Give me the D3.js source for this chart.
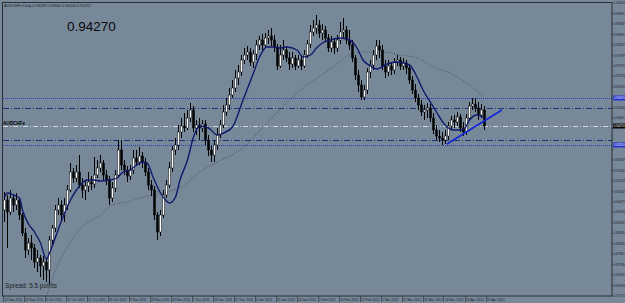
<!DOCTYPE html>
<html>
<head>
<meta charset="utf-8">
<script src="https://cdn.jsdelivr.net/npm/d3@7"></script>
<style>
body { margin: 0; background: #778899; }
svg { display: block; font-family: "Liberation Sans", Arial, sans-serif; }
</style>
</head>
<body>
<div id="chart"></div>
<script>
// AUDCHFe, Daily - bars
var opens = [0.9007,0.9057,0.8997,0.9067,0.9032,0.9057,0.8982,0.8892,0.8807,0.8842,
  0.8817,0.8747,0.8767,0.8727,0.8747,0.8707,0.8857,0.8917,0.9007,0.9032,
  0.8982,0.9032,0.9107,0.9197,0.9167,0.9197,0.9132,0.9107,0.9127,0.9147,
  0.9137,0.9182,0.9217,0.9242,0.9182,0.9157,0.9067,0.9117,0.9182,0.9307,
  0.9232,0.9207,0.9177,0.9207,0.9267,0.9247,0.9277,0.9247,0.9197,0.9132,
  0.9107,0.8982,0.8897,0.8982,0.9082,0.9132,0.9217,0.9307,0.9332,0.9397,
  0.9427,0.9417,0.9467,0.9507,0.9417,0.9432,0.9417,0.9437,0.9357,0.9307,
  0.9282,0.9332,0.9382,0.9432,0.9497,0.9532,0.9582,0.9617,0.9667,0.9697,
  0.9757,0.9782,0.9797,0.9747,0.9787,0.9832,0.9857,0.9832,0.9867,0.9877,
  0.9857,0.9822,0.9727,0.9782,0.9807,0.9767,0.9737,0.9767,0.9727,0.9757,
  0.9727,0.9782,0.9837,0.9897,0.9917,0.9932,0.9892,0.9907,0.9867,0.9817,
  0.9847,0.9817,0.9857,0.9897,0.9907,0.9857,0.9832,0.9767,0.9682,0.9632,
  0.9572,0.9607,0.9697,0.9732,0.9782,0.9827,0.9807,0.9727,0.9697,0.9727,
  0.9707,0.9747,0.9757,0.9727,0.9742,0.9717,0.9657,0.9607,0.9567,0.9532,
  0.9497,0.9507,0.9517,0.9467,0.9407,0.9377,0.9367,0.9357,0.9377,0.9427,
  0.9457,0.9447,0.9472,0.9417,0.9397,0.9467,0.9527,0.9537,0.9517,0.9482,
  0.9507];
var highs = [0.9097,0.9082,0.9107,0.9082,0.9092,0.9067,0.8992,0.8917,0.8867,0.8882,
  0.8837,0.8807,0.8782,0.8777,0.8767,0.8877,0.8932,0.9032,0.9067,0.9057,
  0.9067,0.9132,0.9242,0.9217,0.9232,0.9282,0.9167,0.9157,0.9197,0.9177,
  0.9272,0.9257,0.9282,0.9257,0.9207,0.9177,0.9147,0.9207,0.9357,0.9357,
  0.9257,0.9227,0.9232,0.9307,0.9307,0.9322,0.9297,0.9267,0.9217,0.9157,
  0.9127,0.8997,0.9007,0.9107,0.9157,0.9247,0.9327,0.9367,0.9432,0.9467,
  0.9492,0.9507,0.9542,0.9527,0.9457,0.9467,0.9457,0.9457,0.9382,0.9327,
  0.9357,0.9417,0.9457,0.9532,0.9567,0.9617,0.9657,0.9707,0.9732,0.9782,
  0.9817,0.9827,0.9817,0.9807,0.9857,0.9877,0.9887,0.9892,0.9907,0.9917,
  0.9882,0.9837,0.9832,0.9857,0.9827,0.9797,0.9797,0.9782,0.9782,0.9777,
  0.9807,0.9857,0.9932,0.9957,0.9982,0.9957,0.9937,0.9927,0.9887,0.9877,
  0.9867,0.9882,0.9947,0.9967,0.9927,0.9907,0.9857,0.9782,0.9707,0.9657,
  0.9632,0.9717,0.9757,0.9807,0.9857,0.9857,0.9832,0.9757,0.9757,0.9747,
  0.9767,0.9782,0.9772,0.9767,0.9757,0.9737,0.9677,0.9637,0.9587,0.9557,
  0.9532,0.9542,0.9537,0.9492,0.9432,0.9407,0.9397,0.9407,0.9447,0.9477,
  0.9482,0.9497,0.9487,0.9447,0.9487,0.9547,0.9567,0.9567,0.9547,0.9537,
  0.9527];
var lows = [0.8947,0.8817,0.8982,0.8997,0.9007,0.8957,0.8877,0.8767,0.8782,0.8757,
  0.8717,0.8697,0.8672,0.8657,0.8647,0.8637,0.8827,0.8897,0.8982,0.8957,
  0.8947,0.9007,0.9097,0.9142,0.9147,0.9117,0.9067,0.9057,0.9097,0.9107,
  0.9117,0.9167,0.9197,0.9157,0.9132,0.9032,0.9047,0.9097,0.9167,0.9207,
  0.9182,0.9147,0.9157,0.9187,0.9227,0.9232,0.9217,0.9177,0.9107,0.9077,
  0.8957,0.8857,0.8877,0.8967,0.9067,0.9117,0.9197,0.9282,0.9307,0.9367,
  0.9397,0.9407,0.9447,0.9397,0.9382,0.9357,0.9397,0.9332,0.9277,0.9247,
  0.9247,0.9307,0.9367,0.9417,0.9477,0.9507,0.9567,0.9597,0.9632,0.9677,
  0.9737,0.9757,0.9727,0.9717,0.9757,0.9807,0.9807,0.9817,0.9837,0.9827,
  0.9797,0.9707,0.9717,0.9757,0.9747,0.9707,0.9717,0.9707,0.9717,0.9707,
  0.9717,0.9767,0.9817,0.9877,0.9887,0.9867,0.9857,0.9847,0.9797,0.9797,
  0.9787,0.9797,0.9837,0.9867,0.9837,0.9807,0.9747,0.9657,0.9597,0.9557,
  0.9557,0.9587,0.9667,0.9707,0.9757,0.9767,0.9707,0.9667,0.9677,0.9682,
  0.9687,0.9727,0.9707,0.9707,0.9687,0.9637,0.9587,0.9547,0.9507,0.9477,
  0.9457,0.9467,0.9447,0.9387,0.9357,0.9347,0.9332,0.9337,0.9357,0.9407,
  0.9417,0.9427,0.9397,0.9377,0.9382,0.9457,0.9507,0.9497,0.9457,0.9467,
  0.9407];
var closes = [0.9057,0.8997,0.9067,0.9032,0.9057,0.8982,0.8892,0.8807,0.8842,0.8817,
  0.8747,0.8767,0.8727,0.8747,0.8707,0.8857,0.8917,0.9007,0.9032,0.8982,
  0.9032,0.9107,0.9197,0.9167,0.9197,0.9132,0.9107,0.9127,0.9147,0.9137,
  0.9182,0.9217,0.9242,0.9182,0.9157,0.9067,0.9117,0.9182,0.9307,0.9232,
  0.9207,0.9177,0.9207,0.9267,0.9247,0.9277,0.9247,0.9197,0.9132,0.9107,
  0.8982,0.8897,0.8982,0.9082,0.9132,0.9217,0.9307,0.9332,0.9397,0.9427,
  0.9417,0.9467,0.9507,0.9417,0.9432,0.9417,0.9437,0.9357,0.9307,0.9282,
  0.9332,0.9382,0.9432,0.9497,0.9532,0.9582,0.9617,0.9667,0.9697,0.9757,
  0.9782,0.9797,0.9747,0.9787,0.9832,0.9857,0.9832,0.9867,0.9877,0.9857,
  0.9822,0.9727,0.9782,0.9807,0.9767,0.9737,0.9767,0.9727,0.9757,0.9727,
  0.9782,0.9837,0.9897,0.9917,0.9932,0.9892,0.9907,0.9867,0.9817,0.9847,
  0.9817,0.9857,0.9897,0.9907,0.9857,0.9832,0.9767,0.9682,0.9632,0.9572,
  0.9607,0.9697,0.9732,0.9782,0.9827,0.9807,0.9727,0.9697,0.9727,0.9707,
  0.9747,0.9757,0.9727,0.9742,0.9717,0.9657,0.9607,0.9567,0.9532,0.9497,
  0.9507,0.9517,0.9467,0.9407,0.9377,0.9367,0.9357,0.9377,0.9427,0.9457,
  0.9447,0.9472,0.9417,0.9397,0.9467,0.9527,0.9537,0.9517,0.9482,0.9507,
  0.9427];

// moving averages, sampled at bar positions
var fastBars = [0,1,3,5,6,8,10,12,14,15,17.5,19.5,22,24,27.5,29.5,32,35,37.5,39.5,
  42,44,46,47.5,49.5,52,54,55,57,58.5,61,63,65,68,71,73,76,79.5,83,85,
  87.5,89.5,92,94,97.5,99.5,102,104,106,108.5,112,115,117.5,119.5,122,124,127.5,131,135,137.5,
  139.5,143,145,147.5,149.5,152,153.5,155,157.5,159.5,160];
var fastValues = [0.9072,0.9092,0.9082,0.9067,0.9007,0.8937,0.8897,0.8842,0.8762,0.8792,
  0.8892,0.8972,0.9057,0.9107,0.9157,0.9157,0.9152,0.9157,0.9167,0.9197,
  0.9207,0.9232,0.9247,0.9242,0.9172,0.9092,0.9052,0.9042,0.9072,0.9157,
  0.9257,0.9372,0.9427,0.9417,0.9382,0.9392,0.9422,0.9557,0.9692,0.9772,
  0.9822,0.9822,0.9817,0.9822,0.9807,0.9772,0.9782,0.9817,0.9842,0.9857,
  0.9867,0.9857,0.9817,0.9757,0.9727,0.9712,0.9737,0.9747,0.9732,0.9672,
  0.9607,0.9522,0.9472,0.9422,0.9407,0.9407,0.9417,0.9457,0.9482,0.9472,0.9467];
var slowBars = [14,17.5,21,24,27.5,32,36,41,45,49.5,54,59.5,65,71,78.5,88.5,97.5,109.5,115,120,126,132,137.5,143,148.5,154,160];
var slowValues = [0.8577,0.8722,0.8822,0.8892,0.8942,0.8982,0.9032,0.9047,0.9067,0.9082,
  0.9097,0.9127,0.9197,0.9247,0.9307,0.9457,0.9592,0.9722,0.9782,0.9797,
  0.9797,0.9782,0.9767,0.9722,0.9692,0.9642,0.9572];

// horizontal lines and trend line
var dottedLevels = [0.9567, 0.9332];
var dashDotLevels = [0.9517, 0.9357];
var bidPrice = 0.9427;
var trendBars = [147.5, 165.8];
var trendValues = [0.9337, 0.9507];

var dateBars = [0,7,14,21,28,35,42,49,56,63,70,77,84,91,98,105,112,119,126,133,140,147,154,161];
var dateLabels = ['14 Sep 2011','23 Sep 2011','3 Oct 2011','12 Oct 2011','21 Oct 2011','31 Oct 2011',
  '9 Nov 2011','18 Nov 2011','28 Nov 2011','7 Dec 2011','16 Dec 2011','27 Dec 2011',
  '4 Jan 2012','13 Jan 2012','24 Jan 2012','1 Feb 2012','10 Feb 2012','21 Feb 2012',
  '1 Mar 2012','12 Mar 2012','21 Mar 2012','30 Mar 2012','10 Apr 2012','19 Apr 2012'];
var priceTicks = [0.85770,0.86293,0.86816,0.87339,0.87862,0.88385,0.88908,0.89431,0.89954,0.90477,
  0.91000,0.91523,0.92046,0.92569,0.93092,0.93615,0.94138,0.94661,0.95184,0.95707,
  0.96230,0.96753,0.97276,0.97799,0.98322,0.98845,0.99368,0.99891,1.00414];

var w = 625, h = 303;

var x = d3.scaleLinear().domain([-0.5, 202.5]).range([3, 612]);
var y = d3.scaleLinear().domain([0.8577, 1.0042]).range([296, 3]);

var svg = d3.select('#chart').append('svg')
    .attr('width', w)
    .attr('height', h);

svg.append('rect').attr('width', w).attr('height', h).attr('fill', '#778899');

svg.append('clipPath').attr('id', 'plot')
  .append('rect').attr('x', 3).attr('y', 3).attr('width', 609).attr('height', 293);

var plot = svg.append('g').attr('clip-path', 'url(#plot)');

//level lines
plot.selectAll('.dotted').data(dottedLevels).enter().append('line')
    .attr('x1', 3).attr('x2', 612)
    .attr('y1', d => Math.round(y(d)) + 0.5).attr('y2', d => Math.round(y(d)) + 0.5)
    .attr('stroke', '#2b3cc4').attr('stroke-width', 1).attr('stroke-dasharray', '1 1');
plot.selectAll('.dashdot').data(dashDotLevels).enter().append('line')
    .attr('x1', 3).attr('x2', 612)
    .attr('y1', d => Math.round(y(d)) + 0.5).attr('y2', d => Math.round(y(d)) + 0.5)
    .attr('stroke', '#23307e').attr('stroke-width', 1).attr('stroke-dasharray', '6 2 1 2');
plot.append('line')
    .attr('x1', 3).attr('x2', 612)
    .attr('y1', Math.round(y(bidPrice)) + 0.5).attr('y2', Math.round(y(bidPrice)) + 0.5)
    .attr('stroke', '#d4d8dc').attr('stroke-width', 1).attr('stroke-dasharray', '5 2 1 2');

//slow moving average (dotted)
var slowLine = d3.line().x((d, i) => x(slowBars[i])).y(d => y(d)).curve(d3.curveMonotoneX);
plot.append('path').attr('d', slowLine(slowValues))
    .attr('fill', 'none').attr('stroke', '#3f4a58').attr('stroke-width', 0.8)
    .attr('stroke-dasharray', '1 1.5');

//candles
var bars = d3.range(closes.length);
plot.selectAll('.wick').data(bars).enter().append('line')
    .attr('x1', i => Math.floor(x(i)) + 0.5).attr('x2', i => Math.floor(x(i)) + 0.5)
    .attr('y1', i => y(highs[i])).attr('y2', i => y(lows[i]))
    .attr('stroke', '#000').attr('stroke-width', 1);
plot.selectAll('.body').data(bars).enter().append('rect')
    .attr('x', i => Math.floor(x(i)) - 0.5)
    .attr('width', 2)
    .attr('y', i => y(Math.max(opens[i], closes[i])))
    .attr('height', i => Math.max(0.8, Math.abs(y(opens[i]) - y(closes[i]))))
    .attr('fill', i => closes[i] >= opens[i] ? '#ffffff' : '#000000')
    .attr('stroke', '#000').attr('stroke-width', 0.5);

//fast moving average
var fastLine = d3.line().x((d, i) => x(fastBars[i])).y(d => y(d)).curve(d3.curveMonotoneX);
plot.append('path').attr('d', fastLine(fastValues))
    .attr('fill', 'none').attr('stroke', '#10196b').attr('stroke-width', 1.4);

//trend line
plot.append('line')
    .attr('x1', x(trendBars[0])).attr('y1', y(trendValues[0]))
    .attr('x2', x(trendBars[1])).attr('y2', y(trendValues[1]))
    .attr('stroke', '#1428d8').attr('stroke-width', 1.8);

//frame
svg.append('rect').attr('x', 2.5).attr('y', 2.5).attr('width', 609.5).attr('height', 293.5)
    .attr('fill', 'none').attr('stroke', '#2a2e33').attr('stroke-width', 1);

//price tags
var tags = [[dottedLevels[0], '#2233cc'], [dottedLevels[1], '#2233cc'], [bidPrice, '#050505']];

//price axis (labels hidden under a tag are skipped)
var freeTicks = priceTicks.filter(p => tags.every(t => Math.abs(y(p) - y(t[0])) > 6));
var ticks = svg.append('g');
ticks.selectAll('text').data(freeTicks).enter().append('text')
    .attr('x', 613.8).attr('y', d => y(d) + 1.1)
    .attr('font-size', 3).attr('fill', '#1b1f24')
    .text(d => d.toFixed(5));
ticks.selectAll('line').data(priceTicks).enter().append('line')
    .attr('x1', 612).attr('x2', 613.5).attr('y1', d => y(d)).attr('y2', d => y(d))
    .attr('stroke', '#2a2e33').attr('stroke-width', 0.6);

tags.forEach(function(t) {
    svg.append('rect').attr('x', 613).attr('y', y(t[0]) - 2.5).attr('width', 12).attr('height', 5)
        .attr('fill', t[1]);
    svg.append('text').attr('x', 613.8).attr('y', y(t[0]) + 1.1)
        .attr('font-size', 3).attr('fill', '#ffffff')
        .text(t[0].toFixed(5));
});

//time axis
var dates = svg.append('g');
dates.selectAll('line').data(dateBars).enter().append('line')
    .attr('x1', d => Math.floor(x(d) - 1.5) + 0.5).attr('x2', d => Math.floor(x(d) - 1.5) + 0.5)
    .attr('y1', 296).attr('y2', 302)
    .attr('stroke', '#2a2e33').attr('stroke-width', 0.6);
dates.selectAll('text').data(dateLabels).enter().append('text')
    .attr('x', (d, i) => x(dateBars[i]) - 0.5).attr('y', 301.2)
    .attr('font-size', 3.3).attr('fill', '#1b1f24')
    .text(d => d);

//texts
svg.append('text').attr('x', 4).attr('y', 6.5).attr('font-size', 3.8).attr('fill', '#1b1f24')
    .text('AUDCHFe,Daily  0.94283 0.94600 0.94100 0.94270');
svg.append('text').attr('x', 67).attr('y', 30.5).attr('font-size', 13.5).attr('fill', '#0a0a0a')
    .text('0.94270');
svg.append('text').attr('x', 5).attr('y', 288).attr('font-size', 6.4).attr('fill', '#1b1f24')
    .text('Spread: 5.5 points');
svg.append('text').attr('x', 3).attr('y', 125).attr('font-size', 4.6).attr('font-weight', 'bold')
    .attr('fill', '#000').text('AUDCHFe \u2192');
</script>
</body>
</html>
